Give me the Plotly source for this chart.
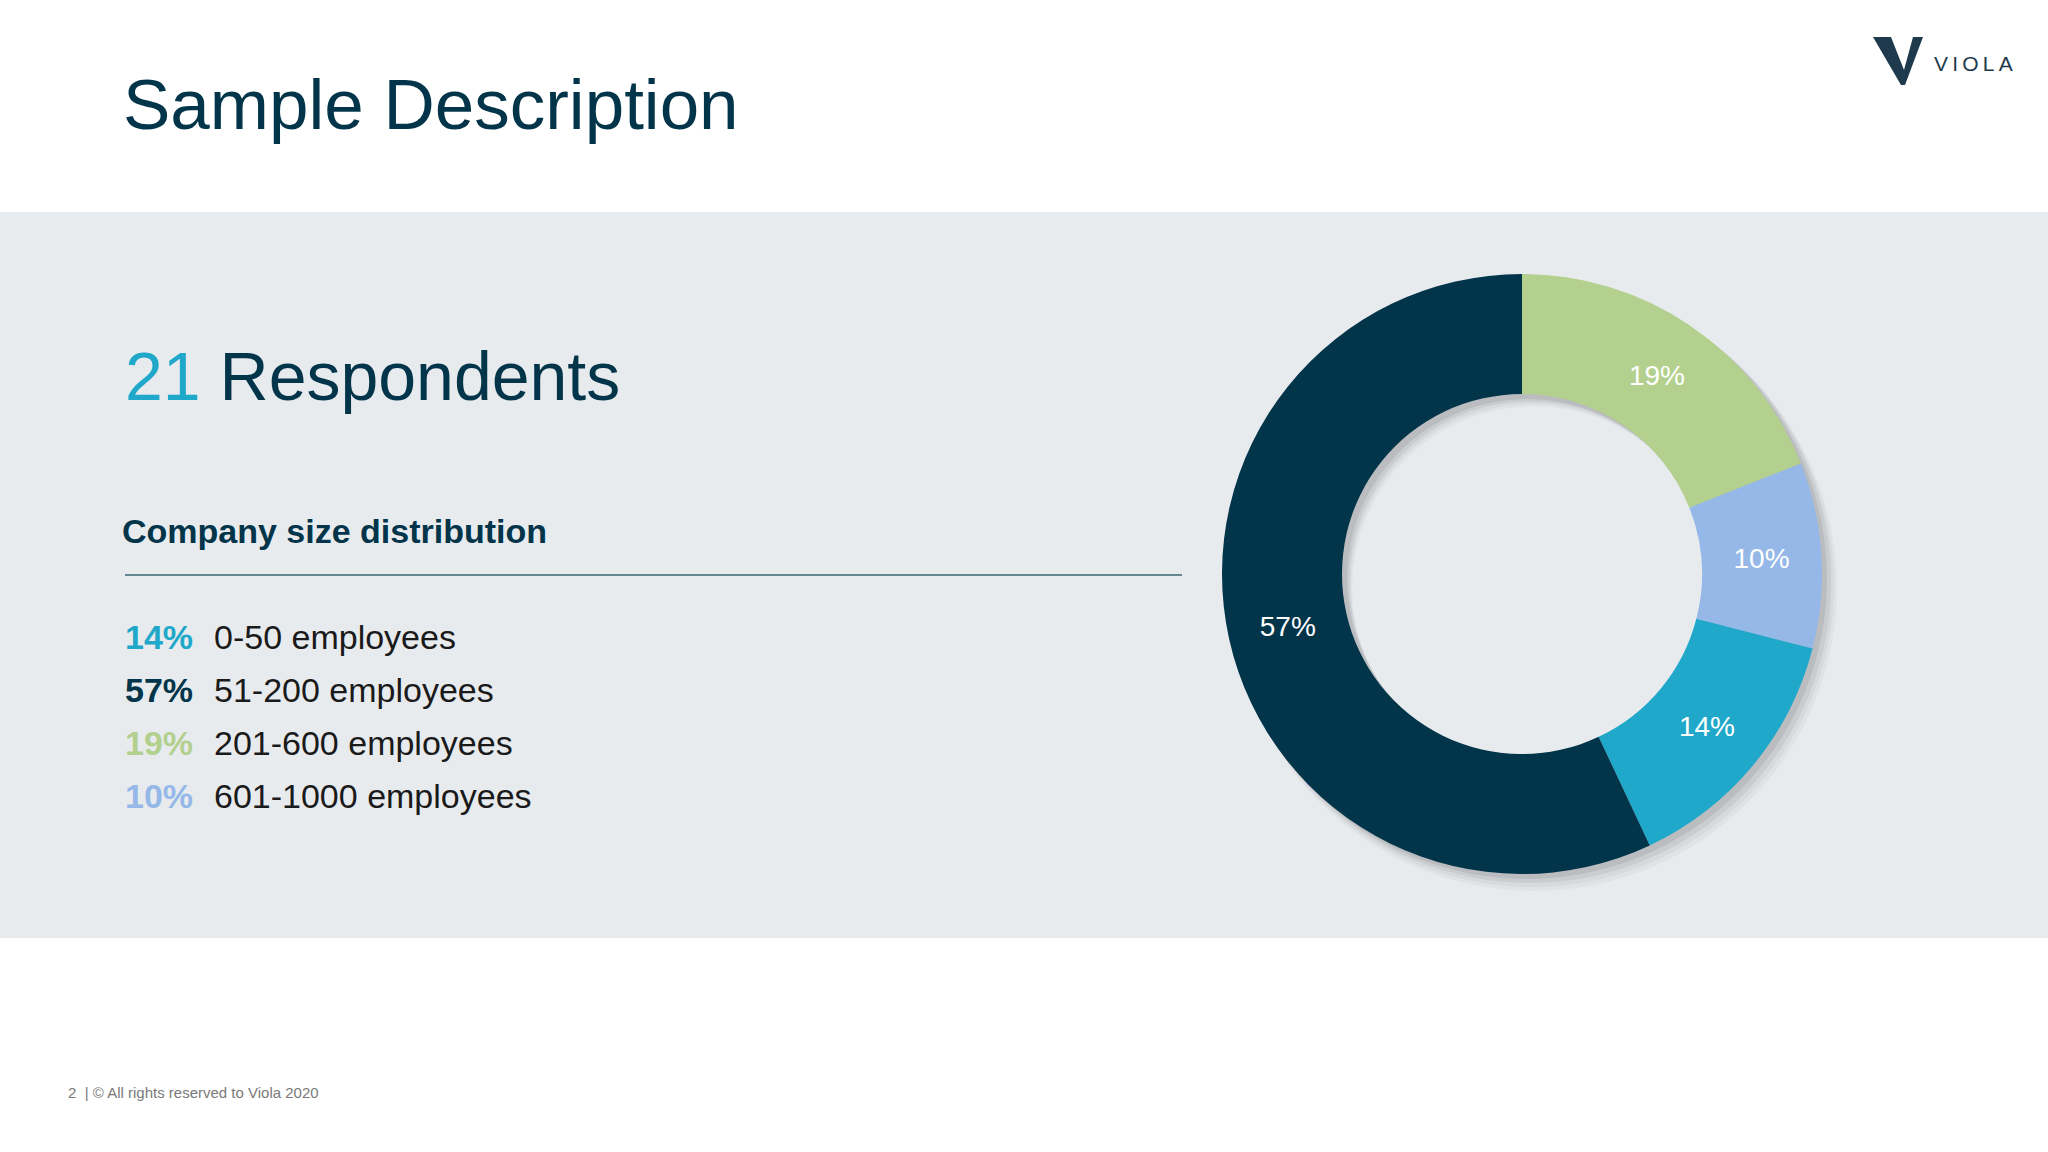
import plotly.graph_objects as go

# ---- data ----
categories = ["0-50 employees", "51-200 employees", "201-600 employees", "601-1000 employees"]
shares = [14, 57, 19, 10]              # percent of respondents
pct_labels = ["14%", "57%", "19%", "10%"]
colors = ["#1FA8C9", "#02344A", "#B3D08E", "#95B8E8"]
respondents = 21
pie_order = [2, 3, 0, 1]               # clockwise from 12 o'clock as drawn

W, H = 2048, 1152
DARK = "#02344A"
FONT = "Liberation Sans, Arial, sans-serif"


def X(px):
    return px / W


def Y(py):
    return 1 - py / H


fig = go.Figure()

# pie geometry (pixels)
cx, cy, r = 1522, 574, 300
hole = 0.6


def dom(dx=0, dy=0, dr=0):
    return dict(x=[X(cx + dx - r - dr), X(cx + dx + r + dr)],
                y=[Y(cy + dy + r + dr), Y(cy + dy - r - dr)])


# soft drop-shadow layers
for dx, dy, dr, op in [(12, 14, 3, 0.03), (10, 11, 2, 0.04), (8, 8, 1, 0.06), (5, 5, 0, 0.08)]:
    fig.add_trace(go.Pie(values=[1], hole=hole, domain=dom(dx, dy, dr),
                         marker=dict(colors=[f"rgba(0,0,0,{op})"], line=dict(width=0)),
                         textinfo="none", hoverinfo="skip", showlegend=False, sort=False))

fig.add_trace(go.Pie(
    labels=[categories[i] for i in pie_order],
    values=[shares[i] for i in pie_order],
    text=[pct_labels[i] for i in pie_order],
    marker=dict(colors=[colors[i] for i in pie_order], line=dict(width=0)),
    hole=hole, sort=False, direction="clockwise", rotation=0,
    domain=dom(),
    textinfo="text", textposition="inside", insidetextorientation="horizontal",
    textfont=dict(family=FONT, size=28, color="white"),
    showlegend=False,
))

shapes = [
    # grey band
    dict(type="rect", xref="paper", yref="paper", x0=0, x1=1, y0=Y(938), y1=Y(212),
         fillcolor="#E8EBEE", line=dict(width=0), layer="below"),
    # divider line
    dict(type="line", xref="paper", yref="paper", x0=X(125), x1=X(1182), y0=Y(575), y1=Y(575),
         line=dict(color="#3D6670", width=1.5)),
]

# logo mark (V)
pts = [(1873, 37), (1891, 37), (1904, 70), (1913, 37), (1923, 37), (1905, 85), (1901, 85)]
path = "M " + " L ".join(f"{X(a):.5f} {Y(b):.5f}" for a, b in pts) + " Z"
shapes.append(dict(type="path", xref="paper", yref="paper", path=path,
                   fillcolor="#1E3A4C", line=dict(width=0)))

ann = []


def add_text(x, y, text, size, color, xanchor="left"):
    ann.append(dict(x=X(x), y=Y(y), xref="paper", yref="paper", text=text, showarrow=False,
                    xanchor=xanchor, yanchor="middle",
                    font=dict(family=FONT, size=size, color=color)))


add_text(121, 104, "Sample Description", 71, DARK)
add_text(123, 376, f"<span style='color:#1FA8C9'>{respondents}</span> Respondents", 68, DARK)
add_text(120, 531, "<b>Company size distribution</b>", 34, DARK)

rows_y = [637, 690, 743, 796]
for i, cat in enumerate(categories):
    add_text(123, rows_y[i], f"<b>{pct_labels[i]}</b>", 34, colors[i])
    add_text(212, rows_y[i], cat, 34, "#1A1A1A")

add_text(1932, 63, "V\u2009I\u2009O\u2009L\u2009A", 21, "#1E3A4C")
add_text(66, 1092, "2  | © All rights reserved to Viola 2020", 15, "#7A7A7A")

fig.update_layout(
    width=W, height=H, margin=dict(l=0, r=0, t=0, b=0),
    paper_bgcolor="white", plot_bgcolor="white",
    shapes=shapes, annotations=ann,
    xaxis=dict(visible=False), yaxis=dict(visible=False),
)

fig.write_html("out.html", config={"displayModeBar": False},
               post_script="document.body.style.margin='0';document.body.style.overflow='hidden';")
